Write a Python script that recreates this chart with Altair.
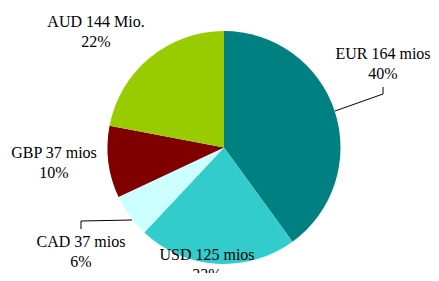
import altair as alt
import pandas as pd

# ---- data ----
currencies = ["EUR", "USD", "CAD", "GBP", "AUD"]
amounts = ["164 mios", "125 mios", "37 mios", "37 mios", "144 Mio."]
percents = [40, 22, 6, 10, 22]

# ---- styling / layout ----
colors = ["#008080", "#33CCCC", "#CCFFFF", "#800000", "#99CC00"]
label_x = [375, 199, 73, 46, 88]
label_y = [51, 252, 239, 150, 19]
# leader line segments (x, y, x2, y2)
seg_x = [327, 375, 124, 73]
seg_y = [103, 86, 212, 213]
seg_x2 = [375, 375, 73, 73]
seg_y2 = [86, 79, 213, 221]

W, H = 423, 265
CX, CY, R = 216, 139.5, 116.5

df = pd.DataFrame({
    "cur": currencies,
    "amt": amounts,
    "pct": percents,
    "idx": list(range(len(currencies))),
})
df["label"] = [f"{c} {a}\n{p}%" for c, a, p in zip(currencies, amounts, percents)]
df["lx"] = label_x
df["ly"] = label_y

seg = pd.DataFrame({"x": seg_x, "y": seg_y, "x2": seg_x2, "y2": seg_y2})

pie = alt.Chart(df).mark_arc(radius=R, stroke=None).encode(
    theta=alt.Theta("pct:Q", stack=True),
    color=alt.Color("cur:N", scale=alt.Scale(domain=currencies, range=colors), legend=None),
    order=alt.Order("idx:Q"),
    x=alt.value(CX),
    y=alt.value(CY),
)

lines = alt.Chart(seg).mark_rule(color="black", strokeWidth=1).encode(
    x=alt.X("x:Q", scale=None),
    y=alt.Y("y:Q", scale=None),
    x2="x2:Q",
    y2="y2:Q",
)

labels = alt.Chart(df).mark_text(
    font="Liberation Serif", fontSize=16, color="black",
    lineBreak="\n", lineHeight=20, align="center", baseline="alphabetic",
).encode(
    x=alt.X("lx:Q", scale=None),
    y=alt.Y("ly:Q", scale=None),
    text="label:N",
)

chart = alt.layer(pie, lines, labels).properties(
    width=W, height=H, padding=0, autosize=alt.AutoSizeParams(type="none"),
).configure(background="white").configure_view(stroke=None)

chart.save("out.html", embed_options={"renderer": "svg", "actions": False})
